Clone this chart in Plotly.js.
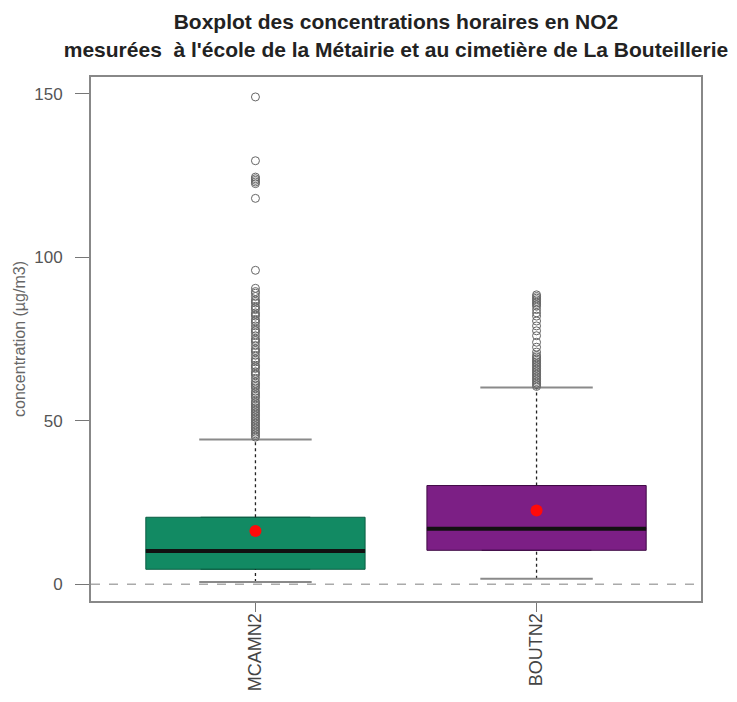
<!DOCTYPE html>
<html>
<head>
<meta charset="utf-8">
<script src="https://cdn.plot.ly/plotly-3.0.1.min.js"></script>
<style>
  html, body { margin: 0; padding: 0; background: #ffffff; }
  #chart { width: 737px; height: 702px; }
</style>
</head>
<body>
<div id="chart"></div>
<script>
// Hourly NO2 concentrations at the two monitoring sites
const stations = ['MCAMN2', 'BOUTN2'];
const positions = [1, 2];
const boxColors = ['#128a63', '#7c1f85'];
const edgeColors = ['#0b5e43', '#3f0a45'];

// Five-number summary (µg/m3) and mean of each station
const lowerWhisker = [0.7, 1.7];
const firstQuartile = [4.6, 10.4];
const medians = [10.2, 17.0];
const thirdQuartile = [20.5, 30.2];
const upperWhisker = [44.3, 60.2];
const means = [16.3, 22.6];

// Values beyond the upper whisker
const outliersMCAMN2 = [149, 129.5, 124.5, 124, 123.5, 123, 122.5, 118, 96,
  90.5, 89.5, 89, 88, 87, 86.5, 86, 85, 84.5, 84, 83, 82.5, 82, 81, 80.5, 80,
  79, 78, 77.5, 77, 76, 75, 74.5, 74, 73, 72, 71.5, 71, 70, 69, 68.5, 68, 67,
  66.5, 66, 65, 64.5, 64, 63, 62, 61.5, 61, 60.5, 60, 59, 58.5, 58, 57.5, 57,
  56, 55.5, 55, 54.5, 54, 53.5, 53, 52.5, 52, 51.5, 51, 50.5, 50, 49.5, 49,
  48.5, 48, 47.5, 47, 46.5, 46, 45.5, 45];
const outliersBOUTN2 = [88.5, 88, 87.5, 87, 86.5, 86, 85.5, 85, 84, 83, 82,
  80.5, 79, 77.5, 76, 74, 72.5, 71, 70, 69.5, 69, 68.5, 68, 67.5, 67, 66.5, 66,
  65.5, 65, 64.5, 64, 63.5, 63, 62.5, 62, 61.5, 61, 60.5];
const outliers = [outliersMCAMN2, outliersBOUTN2];

const referenceLevel = 0;
const yTicks = [0, 50, 100, 150];

const boxWidth = 0.78;
const capWidth = 0.4;

const traces = [];

// Filled boxes (Q1 to Q3)
stations.forEach((name, i) => {
  traces.push({
    type: 'box',
    name: name,
    x: [positions[i]],
    q1: [firstQuartile[i]],
    median: [medians[i]],
    q3: [thirdQuartile[i]],
    lowerfence: [firstQuartile[i]],
    upperfence: [thirdQuartile[i]],
    width: boxWidth,
    fillcolor: boxColors[i],
    line: { color: edgeColors[i], width: 1 },
    boxpoints: false,
    hoverinfo: 'skip',
    showlegend: false
  });
});

stations.forEach((name, i) => {
  const p = positions[i];
  // dotted whiskers
  traces.push({
    type: 'scatter', mode: 'lines',
    x: [p, p], y: [thirdQuartile[i], upperWhisker[i]],
    line: { color: '#222', width: 1.3, dash: 'dot' },
    hoverinfo: 'skip', showlegend: false
  });
  traces.push({
    type: 'scatter', mode: 'lines',
    x: [p, p], y: [lowerWhisker[i], firstQuartile[i]],
    line: { color: '#222', width: 1.3, dash: 'dot' },
    hoverinfo: 'skip', showlegend: false
  });
  // whisker caps
  [lowerWhisker[i], upperWhisker[i]].forEach(v => {
    traces.push({
      type: 'scatter', mode: 'lines',
      x: [p - capWidth / 2, p + capWidth / 2], y: [v, v],
      line: { color: '#8a8a8a', width: 2 },
      hoverinfo: 'skip', showlegend: false
    });
  });
  // median bar
  traces.push({
    type: 'scatter', mode: 'lines',
    x: [p - boxWidth / 2, p + boxWidth / 2], y: [medians[i], medians[i]],
    line: { color: '#111', width: 4 },
    hoverinfo: 'skip', showlegend: false
  });
  // outlying hours
  traces.push({
    type: 'scatter', mode: 'markers',
    x: outliers[i].map(() => p), y: outliers[i],
    marker: { symbol: 'circle-open', size: 8, color: '#666666', line: { width: 1 } },
    hoverinfo: 'y', showlegend: false
  });
});

// mean of each station
traces.push({
  type: 'scatter', mode: 'markers',
  x: positions, y: means,
  marker: { symbol: 'circle', size: 12, color: '#ff0a0a' },
  hoverinfo: 'y', showlegend: false
});

const layout = {
  width: 737,
  height: 702,
  margin: { l: 91, r: 36, t: 77, b: 101 },
  paper_bgcolor: '#ffffff',
  plot_bgcolor: '#ffffff',
  font: { family: 'Liberation Sans, Arial, sans-serif', color: '#333' },
  title: {
    text: '<b>Boxplot des concentrations horaires en NO2<br>mesurées  à l\'école de la Métairie et au cimetière de La Bouteillerie</b>',
    font: { size: 21, color: '#222' },
    x: 0.5, xref: 'paper', xanchor: 'center',
    y: 0.958, yref: 'container', yanchor: 'middle'
  },
  xaxis: {
    range: [0.415, 2.585],
    tickmode: 'array',
    tickvals: positions,
    ticktext: stations,
    tickangle: -90,
    tickfont: { size: 18, color: '#444' },
    ticks: 'outside', ticklen: 9, tickcolor: '#777', tickwidth: 1,
    ticklabelstandoff: -6,
    showline: true, mirror: true, linecolor: '#888', linewidth: 2,
    showgrid: false, zeroline: false
  },
  yaxis: {
    range: [-5.1, 155.1],
    tickmode: 'array',
    tickvals: yTicks,
    tickfont: { size: 17, color: '#555' },
    ticks: 'outside', ticklen: 14, tickcolor: '#777', tickwidth: 1,
    ticklabelstandoff: 9,
    showline: true, mirror: true, linecolor: '#888', linewidth: 2,
    showgrid: false, zeroline: false,
    title: { text: 'concentration (µg/m3)', font: { size: 16, color: '#666' }, standoff: 5 }
  },
  shapes: [{
    type: 'line', xref: 'paper', x0: 0, x1: 1,
    yref: 'y', y0: referenceLevel, y1: referenceLevel,
    line: { color: '#aaaaaa', width: 1.5, dash: 'dash' },
    layer: 'below'
  }],
  showlegend: false
};

Plotly.newPlot('chart', traces, layout, { displayModeBar: false, staticPlot: true });
</script>
</body>
</html>
